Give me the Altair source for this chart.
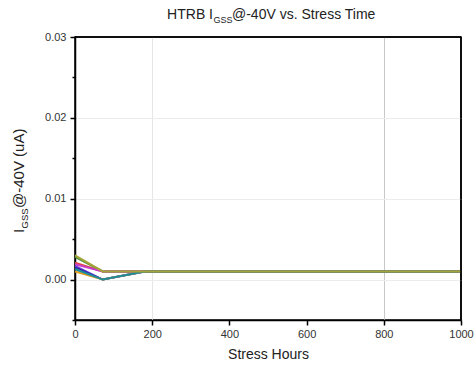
import altair as alt
import pandas as pd

# ---- data ----
series_names = ["s1", "s2", "s3", "s4", "s5", "s6", "s7", "s8"]
series_colors = ["#e2463c", "#4f8f3a", "#c83ec8", "#7a3ee0", "#2a2aa8", "#e6a020", "#1f8c98", "#a4a43a"]
series_hours = [
    [0, 72, 1000],
    [0, 72, 1000],
    [0, 72, 1000],
    [0, 72, 180, 1000],
    [0, 72, 180, 1000],
    [0, 72, 180, 1000],
    [0, 72, 180, 1000],
    [0, 72, 1000],
]
series_values = [
    [0.0021, 0.0010, 0.0010],
    [0.0028, 0.0010, 0.0010],
    [0.0019, 0.0010, 0.0010],
    [0.0017, 0.0000, 0.0010, 0.0010],
    [0.0015, 0.0000, 0.0010, 0.0010],
    [0.0010, 0.0000, 0.0010, 0.0010],
    [0.0013, 0.0000, 0.0010, 0.0010],
    [0.0030, 0.0010, 0.0010],
]
x_ticks = [0, 100, 200, 300, 400, 500, 600, 700, 800, 900, 1000]
y_ticks = [-0.005, 0.0, 0.005, 0.01, 0.015, 0.02, 0.025, 0.03]
title_parts = ["HTRB I", "GSS", "@-40V vs. Stress Time"]
ytitle_parts = ["I", "GSS", "@-40V (uA)"]
x_title = "Stress Hours"
frame_top = pd.DataFrame({"x0": [0], "x1": [1000], "y": [0.03]})
frame_right = pd.DataFrame({"x": [1000], "y0": [-0.005], "y1": [0.03]})

rows = []
for name, hrs, vals in zip(series_names, series_hours, series_values):
    for h, v in zip(hrs, vals):
        rows.append({"series": name, "hours": h, "value": v})
df = pd.DataFrame(rows)

FONT = "Liberation Sans"

x_axis = alt.Axis(
    values=x_ticks,
    labelExpr="datum.value % 200 == 0 ? datum.label : ''",
    format="d",
    title=x_title,
    titleFont=FONT, titleFontSize=14, titleFontWeight="normal", titleColor="#222",
    titlePadding=8,
    labelFont=FONT, labelFontSize=11, labelColor="#333", labelPadding=3,
    labelFlush=False, labelOverlap=False,
    domainColor="#000", domainWidth=1.5, tickColor="#000", tickWidth=1.5,
    tickSize={"condition": {"test": "datum.value % 200 == 0", "value": 5}, "value": 3},
    grid=True,
    gridColor={"condition": {"test": "datum.value == 800", "value": "#c8c8c8"}, "value": "#e6e6e6"},
    gridOpacity={"condition": {"test": "datum.value == 200 || datum.value == 800", "value": 1}, "value": 0},
)
y_axis = alt.Axis(
    values=y_ticks,
    labelExpr="abs(round(datum.value * 1000)) % 10 == 0 ? format(datum.value, '.2f') : ''",
    title="",
    labelFont=FONT, labelFontSize=11, labelColor="#333", labelPadding=4,
    labelFlush=False, labelOverlap=False,
    domainColor="#000", domainWidth=1.5, tickColor="#000", tickWidth=1.5,
    tickSize={"condition": {"test": "abs(round(datum.value * 1000)) % 10 == 0", "value": 5}, "value": 3},
    grid=True,
    gridColor="#ececec",
    gridOpacity={"condition": {"test": "abs(round(datum.value * 1000)) % 10 == 0 && datum.value < 0.025", "value": 1}, "value": 0},
)

xs = alt.Scale(domain=[0, 1000], nice=False)
ys = alt.Scale(domain=[-0.005, 0.03], nice=False, zero=False)

lines = alt.Chart(df).mark_line(strokeWidth=2, clip=True).encode(
    x=alt.X("hours:Q", scale=xs, axis=x_axis),
    y=alt.Y("value:Q", scale=ys, axis=y_axis),
    color=alt.Color("series:N", scale=alt.Scale(domain=series_names, range=series_colors), legend=None),
    order=alt.Order("hours:Q"),
)

# plot frame: top and right edges, drawn through the scales
top_edge = alt.Chart(frame_top).mark_rule(color="#000000", strokeWidth=1.5).encode(
    x="x0:Q", x2="x1:Q", y="y:Q"
)
right_edge = alt.Chart(frame_right).mark_rule(color="#000000", strokeWidth=1.5).encode(
    x="x:Q", y="y0:Q", y2="y1:Q"
)

def txt(s, x, y, size, angle=0, color="#222", align="left"):
    kw = dict(align=align, baseline="alphabetic", font=FONT, fontSize=size, color=color)
    if angle:
        kw["angle"] = angle
    return alt.Chart(pd.DataFrame({"t": [s]})).mark_text(**kw).encode(
        text="t:N", x=alt.value(x), y=alt.value(y)
    )

# title pieces (relative to plot origin)
t1 = txt(title_parts[0], 138, -18, 14, align="right")
t2 = txt(title_parts[1], 138.5, -14, 9)
t3 = txt(title_parts[2], 157, -18, 14)

# y title pieces (rotated)
y1 = txt(ytitle_parts[0], -51, 196, 15, angle=270)
y2 = txt(ytitle_parts[1], -47, 191.5, 9.5, angle=270)
y3 = txt(ytitle_parts[2], -51, 171, 15, angle=270)

chart = alt.layer(lines, top_edge, right_edge, t1, t2, t3, y1, y2, y3).properties(
    width=386, height=283,
    padding={"left": 75, "top": 37, "right": 15, "bottom": 49},
    autosize=alt.AutoSizeParams(type="none"),
    background="white",
).configure_view(stroke="#000000", strokeWidth=1.5)

chart.save("out.html", embed_options={"renderer": "svg", "actions": False})
